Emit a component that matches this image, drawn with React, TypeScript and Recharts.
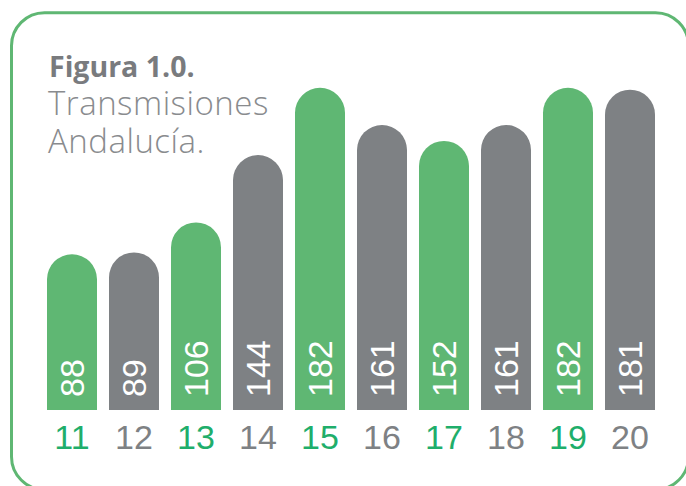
import React from "react";
import { BarChart, Bar, XAxis, YAxis, Cell, LabelList } from "recharts";

const categories = ["11", "12", "13", "14", "15", "16", "17", "18", "19", "20"];
const transmisiones = [88, 89, 106, 144, 182, 161, 152, 161, 182, 181];
const highlighted = [true, false, true, false, true, false, true, false, true, false];
const titleBold = "Figura 1.0.";
const titleLines = ["Transmisiones", "Andalucía."];

const data = categories.map((c, i) => ({ year: c, value: transmisiones[i], hi: highlighted[i] }));

const GREEN = "#5fb773";
const GRAY = "#7e8184";
const LABEL_GREEN = "#1fae6b";
const FONT = "'Liberation Sans', Arial, Helvetica, sans-serif";

const XTick = (props: any) => {
  const { x, y, payload } = props;
  const idx = categories.indexOf(String(payload.value));
  return (
    <text
      x={x}
      y={y + 39}
      textAnchor="middle"
      fontFamily={FONT}
      fontSize={34}
      fill={highlighted[idx] ? LABEL_GREEN : GRAY}
    >
      {payload.value}
    </text>
  );
};

const ValueLabel = (props: any) => {
  const { x, y, width, height, value } = props;
  const lx = Number(x) + Number(width) / 2 + 12;
  const ly = Number(y) + Number(height) - 13;
  return (
    <text
      x={lx}
      y={ly}
      transform={`rotate(-90, ${lx}, ${ly})`}
      textAnchor="start"
      fontFamily={FONT}
      fontSize={34}
      fill="#ffffff"
    >
      {value}
    </text>
  );
};

export default function App() {
  return (
    <div
      style={{
        position: "absolute",
        left: 0,
        top: 0,
        width: 686,
        height: 486,
        overflow: "hidden",
        background: "#ffffff",
      }}
    >
      <svg
        width={686}
        height={486}
        style={{ position: "absolute", left: 0, top: 0, pointerEvents: "none" }}
      >
        <rect x={11.5} y={12.7} width={677} height={477} rx={33} ry={33} fill="none" stroke={GREEN} strokeWidth={3} />
        <text x={49} y={77} fontFamily="'Open Sans', sans-serif" fontWeight={700} fontSize={28.5} fill="#797b7e">
          {titleBold}
        </text>
        {titleLines.map((t, i) => (
          <text
            key={t}
            x={48}
            y={115 + i * 37.5}
            fontFamily="'Open Sans', sans-serif"
            fontWeight={300}
            fontSize={33}
            letterSpacing={0.5}
            fill="#898b8e"
          >
            {t}
          </text>
        ))}
      </svg>
      <div style={{ position: "absolute", left: 0, top: 0 }}>
        <BarChart
          width={686}
          height={486}
          data={data}
          margin={{ top: 56, right: 25, left: 41, bottom: 36 }}
          barCategoryGap={6}
        >
          <XAxis
            dataKey="year"
            axisLine={false}
            tickLine={false}
            tickSize={0}
            tickMargin={0}
            height={40}
            interval={0}
            tick={<XTick />}
          />
          <YAxis hide domain={[0, 200]} />
          <Bar dataKey="value" radius={[25, 25, 0, 0]} isAnimationActive={false}>
            {data.map((d) => (
              <Cell key={d.year} fill={d.hi ? GREEN : GRAY} />
            ))}
            <LabelList dataKey="value" content={<ValueLabel />} />
          </Bar>
        </BarChart>
      </div>
    </div>
  );
}
